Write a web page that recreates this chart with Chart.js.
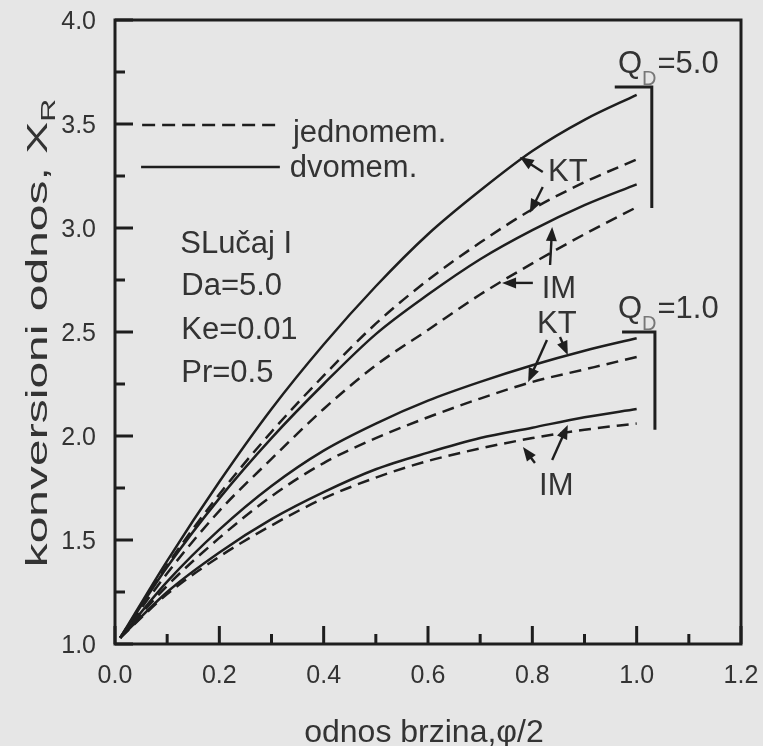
<!DOCTYPE html>
<html>
<head>
<meta charset="utf-8">
<script src="https://cdn.jsdelivr.net/npm/chart.js@4.4.1/dist/chart.umd.min.js"></script>
<style>
  html, body { margin: 0; padding: 0; background: #e6e6e6; }
  #wrap { width: 763px; height: 746px; position: relative; }
</style>
</head>
<body>
<div id="wrap"><canvas id="chart"></canvas></div>
<script>
// x = odnos brzina (phi/2), y = konversioni odnos X_R
const xVals  = [0.01, 0.1, 0.2, 0.3, 0.4, 0.5, 0.6, 0.7, 0.8, 0.9, 1.0];
// Q_D = 5.0
const kt5Dvo = [1.03, 1.40, 1.78, 2.13, 2.44, 2.72, 2.97, 3.18, 3.37, 3.52, 3.64];
const kt5Jed = [1.03, 1.38, 1.72, 2.02, 2.29, 2.54, 2.75, 2.93, 3.09, 3.22, 3.33];
const im5Dvo = [1.03, 1.37, 1.70, 1.99, 2.25, 2.49, 2.68, 2.85, 2.99, 3.11, 3.21];
const im5Jed = [1.03, 1.34, 1.64, 1.89, 2.13, 2.34, 2.51, 2.68, 2.83, 2.97, 3.10];
// Q_D = 1.0
const kt1Dvo = [1.03, 1.30, 1.55, 1.76, 1.93, 2.06, 2.17, 2.26, 2.34, 2.41, 2.47];
const kt1Jed = [1.03, 1.28, 1.51, 1.71, 1.87, 1.99, 2.09, 2.18, 2.26, 2.32, 2.38];
const im1Dvo = [1.03, 1.25, 1.44, 1.60, 1.73, 1.84, 1.92, 1.99, 2.04, 2.09, 2.13];
const im1Jed = [1.03, 1.24, 1.42, 1.57, 1.70, 1.80, 1.88, 1.94, 1.99, 2.03, 2.06];

// brackets grouping the curves of each Q_D
const bracket5X = [0.958, 1.029, 1.029];
const bracket5Y = [3.678, 3.678, 3.096];
const bracket1X = [0.972, 1.035, 1.035];
const bracket1Y = [2.50, 2.50, 2.03];

const xTicks = [0, 0.2, 0.4, 0.6, 0.8, 1.0, 1.2];
const yTicks = [1.0, 1.5, 2.0, 2.5, 3.0, 3.5, 4.0];

// annotations (data coordinates)
const notes = [
  { text: 'SLučaj I', x: 0.125, y: 2.880 },
  { text: 'Da=5.0', x: 0.127, y: 2.678 },
  { text: 'Ke=0.01', x: 0.127, y: 2.466 },
  { text: 'Pr=0.5', x: 0.127, y: 2.260 },
  { text: 'jednomem.', x: 0.341, y: 3.413 },
  { text: 'dvomem.', x: 0.335, y: 3.245 },
  { text: 'KT', x: 0.830, y: 3.226 },
  { text: 'IM', x: 0.818, y: 2.663 },
  { text: 'KT', x: 0.809, y: 2.495 },
  { text: 'IM', x: 0.813, y: 1.716 }
];
const qLabels = [
  { value: '=5.0', x: 0.964, y: 3.745 },
  { value: '=1.0', x: 0.964, y: 2.567 }
];
const legendKeys = [
  { x1: 0.052, x2: 0.316, y: 3.495, dash: [13, 7] },
  { x1: 0.050, x2: 0.316, y: 3.293, dash: [] }
];
// arrows: tail -> tip
const arrows = [
  [0.820, 3.269, 0.776, 3.341],
  [0.820, 3.197, 0.795, 3.072],
  [0.834, 2.822, 0.838, 3.005],
  [0.801, 2.736, 0.742, 2.736],
  [0.828, 2.462, 0.792, 2.260],
  [0.853, 2.476, 0.868, 2.389],
  [0.838, 1.885, 0.868, 2.053],
  [0.805, 1.870, 0.782, 1.947]
];

const INK = '#1e1e1e';
const TXT = '#333333';
const FONT = "'Liberation Sans', Arial, sans-serif";
const DASH = [12, 7];

function pts(xs, ys) {
  return xs.map(function (x, i) { return { x: x, y: ys[i] }; });
}

function curve(ys, dashed) {
  return {
    data: pts(xVals, ys),
    borderColor: INK,
    borderWidth: 2.5,
    borderDash: dashed ? DASH : [],
    pointRadius: 0,
    fill: false,
    cubicInterpolationMode: 'monotone'
  };
}

function bracket(xs, ys) {
  return {
    data: pts(xs, ys),
    borderColor: INK,
    borderWidth: 3,
    pointRadius: 0,
    tension: 0,
    fill: false
  };
}

const decor = {
  id: 'decor',
  afterDraw: function (chart) {
    const ctx = chart.ctx;
    const xs = chart.scales.x, ys = chart.scales.y;
    const a = chart.chartArea;
    const px = function (v) { return xs.getPixelForValue(v); };
    const py = function (v) { return ys.getPixelForValue(v); };
    ctx.save();

    // frame
    ctx.strokeStyle = INK;
    ctx.lineWidth = 3;
    ctx.strokeRect(a.left, a.top, a.right - a.left, a.bottom - a.top);

    // inward ticks on bottom and left
    ctx.beginPath();
    xTicks.forEach(function (v, i) {
      ctx.moveTo(px(v), a.bottom); ctx.lineTo(px(v), a.bottom - 18);
      if (i < xTicks.length - 1) {
        const m = (v + xTicks[i + 1]) / 2;
        ctx.moveTo(px(m), a.bottom); ctx.lineTo(px(m), a.bottom - 10);
      }
    });
    yTicks.forEach(function (v, i) {
      ctx.moveTo(a.left, py(v)); ctx.lineTo(a.left + 18, py(v));
      if (i < yTicks.length - 1) {
        const m = (v + yTicks[i + 1]) / 2;
        ctx.moveTo(a.left, py(m)); ctx.lineTo(a.left + 10, py(m));
      }
    });
    ctx.stroke();

    // tick labels
    ctx.fillStyle = TXT;
    ctx.font = '25px ' + FONT;
    ctx.textBaseline = 'alphabetic';
    ctx.textAlign = 'center';
    xTicks.forEach(function (v) { ctx.fillText(v.toFixed(1), px(v), a.bottom + 39); });
    ctx.textAlign = 'right';
    yTicks.forEach(function (v) { ctx.fillText(v.toFixed(1), a.left - 19, py(v) + 9); });

    // legend keys
    ctx.lineWidth = 2.6;
    legendKeys.forEach(function (k) {
      ctx.setLineDash(k.dash);
      ctx.beginPath();
      ctx.moveTo(px(k.x1), py(k.y)); ctx.lineTo(px(k.x2), py(k.y));
      ctx.stroke();
    });
    ctx.setLineDash([]);

    // text notes
    ctx.textAlign = 'left';
    ctx.font = '31px ' + FONT;
    notes.forEach(function (n) { ctx.fillText(n.text, px(n.x), py(n.y)); });

    // Q_D labels
    qLabels.forEach(function (q) {
      const x0 = px(q.x), y0 = py(q.y);
      ctx.font = '31px ' + FONT;
      ctx.fillStyle = TXT;
      ctx.fillText('Q', x0, y0);
      const wq = ctx.measureText('Q').width;
      ctx.font = '20px ' + FONT;
      ctx.fillStyle = '#777';
      ctx.fillText('D', x0 + wq, y0 + 12);
      const wd = ctx.measureText('D').width;
      ctx.font = '31px ' + FONT;
      ctx.fillStyle = TXT;
      ctx.fillText(q.value, x0 + wq + wd + 1, y0);
    });

    // arrows
    ctx.strokeStyle = INK;
    ctx.fillStyle = INK;
    ctx.lineWidth = 2.4;
    arrows.forEach(function (r) {
      const x1 = px(r[0]), y1 = py(r[1]), x2 = px(r[2]), y2 = py(r[3]);
      const ang = Math.atan2(y2 - y1, x2 - x1);
      const hl = 14, hw = 5.5;
      ctx.beginPath();
      ctx.moveTo(x1, y1);
      ctx.lineTo(x2 - Math.cos(ang) * hl * 0.8, y2 - Math.sin(ang) * hl * 0.8);
      ctx.stroke();
      ctx.beginPath();
      ctx.moveTo(x2, y2);
      ctx.lineTo(x2 - Math.cos(ang) * hl + Math.sin(ang) * hw, y2 - Math.sin(ang) * hl - Math.cos(ang) * hw);
      ctx.lineTo(x2 - Math.cos(ang) * hl - Math.sin(ang) * hw, y2 - Math.sin(ang) * hl + Math.cos(ang) * hw);
      ctx.closePath();
      ctx.fill();
    });

    // axis titles
    ctx.fillStyle = TXT;
    ctx.font = '32px ' + FONT;
    ctx.textAlign = 'center';
    ctx.fillText('odnos brzina,φ/2', 424, 742);

    ctx.translate(47, 333);
    ctx.rotate(-Math.PI / 2);
    ctx.scale(1.6, 1);
    ctx.font = '30px ' + FONT;
    const main = 'konversioni odnos, X';
    const wm = ctx.measureText(main).width;
    ctx.font = '20px ' + FONT;
    const ws = ctx.measureText('R').width;
    const start = -(wm + ws) / 2;
    ctx.textAlign = 'left';
    ctx.font = '30px ' + FONT;
    ctx.fillText(main, start, 0);
    ctx.font = '20px ' + FONT;
    ctx.fillText('R', start + wm, 8);
    ctx.restore();
  }
};

new Chart(document.getElementById('chart').getContext('2d'), {
  type: 'line',
  data: {
    datasets: [
      curve(kt5Dvo, false), curve(kt5Jed, true),
      curve(im5Dvo, false), curve(im5Jed, true),
      curve(kt1Dvo, false), curve(kt1Jed, true),
      curve(im1Dvo, false), curve(im1Jed, true),
      bracket(bracket5X, bracket5Y), bracket(bracket1X, bracket1Y)
    ]
  },
  options: {
    responsive: true,
    maintainAspectRatio: false,
    animation: false,
    layout: { padding: { left: 0, top: 20, right: 22, bottom: 0 } },
    plugins: { legend: { display: false }, tooltip: { enabled: false } },
    scales: {
      x: {
        type: 'linear', min: 0, max: 1.2,
        afterFit: function (s) { s.height = 102; },
        grid: { display: false, drawTicks: false },
        border: { display: false },
        ticks: { display: false, stepSize: 0.2 }
      },
      y: {
        type: 'linear', min: 1, max: 4,
        afterFit: function (s) { s.width = 115; },
        grid: { display: false, drawTicks: false },
        border: { display: false },
        ticks: { display: false, stepSize: 0.5 }
      }
    }
  },
  plugins: [decor]
});
</script>
</body>
</html>
